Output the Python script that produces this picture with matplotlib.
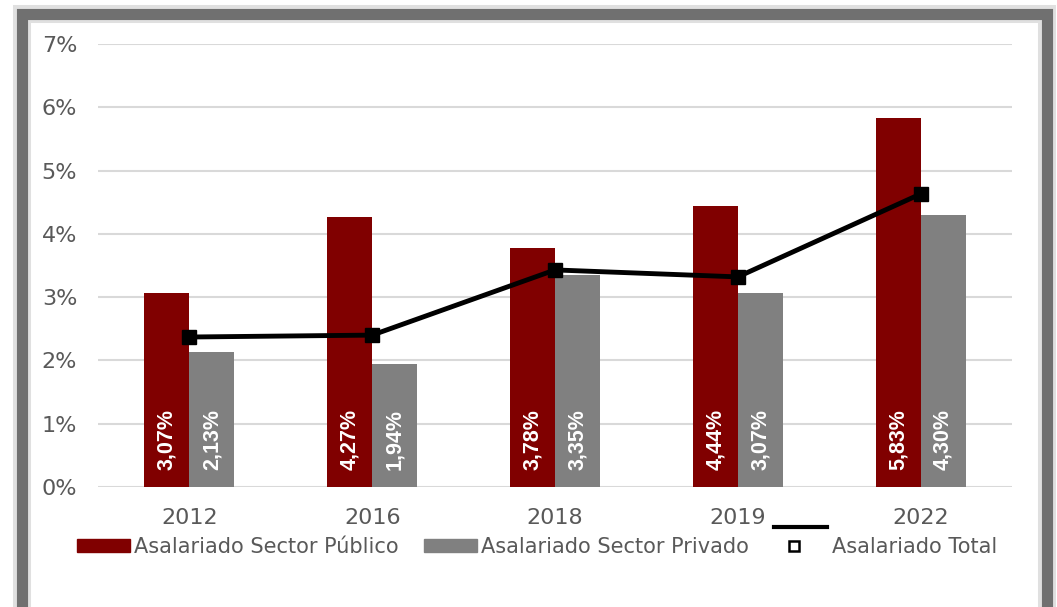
import matplotlib
matplotlib.use("Agg")
import numpy as np
from matplotlib import pyplot as plt
from matplotlib.patches import Rectangle, Patch
from matplotlib.lines import Line2D
from matplotlib.legend_handler import HandlerBase
from matplotlib.ticker import FuncFormatter

years = ['2012', '2016', '2018', '2019', '2022']
publico = [3.07, 4.27, 3.78, 4.44, 5.83]
privado = [2.13, 1.94, 3.35, 3.07, 4.30]
total = [2.37, 2.40, 3.43, 3.32, 4.63]

RED = '#800000'
GRAY = '#808080'
W, H = 1057, 607


class TotalHandler(HandlerBase):
    # Excel-style legend: line sits above the marker
    def create_artists(self, legend, orig_handle, xdescent, ydescent,
                       width, height, fontsize, trans):
        line = Line2D([-xdescent, width - xdescent], [height * 2.1] * 2,
                      color='black', lw=3)
        mark = Line2D([width * 0.38 - xdescent], [height / 2 - ydescent],
                      marker='s', ms=7, mfc='white', mec='black', mew=1.8,
                      ls='none')
        line.set_transform(trans)
        mark.set_transform(trans)
        return [line, mark]


fig = plt.figure(figsize=(W / 100, H / 100), dpi=100)
fig.patch.set_facecolor('white')

# frame with shadow
fig.patches.append(Rectangle((21.5 / W, -0.05), (1046.5 - 21.5) / W, 1 - 13.5 / H + 0.05,
                             transform=fig.transFigure, fill=False,
                             ec='#e0e0e0', lw=13, zorder=0))
fig.patches.append(Rectangle((21.5 / W, -0.05), (1046.5 - 21.5) / W, 1 - 13.5 / H + 0.05,
                             transform=fig.transFigure, fill=False,
                             ec='#707070', lw=8, zorder=1))

ax = fig.add_axes([98 / W, 1 - 487 / H, (1012 - 98) / W, (487 - 44) / H])

x = np.arange(len(years))
bw = 0.246
b1 = ax.bar(x - bw / 2, publico, bw, color=RED, zorder=2)
b2 = ax.bar(x + bw / 2, privado, bw, color=GRAY, zorder=2)
ax.plot(x, total, color='black', lw=3.5, marker='s', ms=10, zorder=3)

for bars, vals in ((b1, publico), (b2, privado)):
    for rect, v in zip(bars, vals):
        ax.annotate(('%.2f%%' % v).replace('.', ','),
                    (rect.get_x() + rect.get_width() / 2, 0),
                    xytext=(0, 12), textcoords='offset points',
                    rotation=90, ha='center', va='bottom', color='white',
                    fontsize=15.5, fontweight='bold', family='Liberation Sans',
                    zorder=4)

ax.set_xlim(-0.5, 4.5)
ax.set_ylim(0, 7)
ax.set_yticks(range(0, 8))
ax.yaxis.set_major_formatter(FuncFormatter(lambda v, p: '%d%%' % v))
ax.set_xticks(x)
ax.set_xticklabels(years)
ax.grid(axis='y', color='#d9d9d9', lw=1.5, zorder=0)
ax.set_axisbelow(True)
for s in ax.spines.values():
    s.set_visible(False)
ax.tick_params(length=0, labelsize=16, labelcolor='#595959')
ax.tick_params(axis='x', pad=15)
ax.tick_params(axis='y', pad=15)

handles = [Patch(color=RED), Patch(color=GRAY), Line2D([], [])]
labels = ['Asalariado Sector Público', 'Asalariado Sector Privado', 'Asalariado Total']
leg = fig.legend(handles, labels, ncol=3, loc='center',
                 bbox_to_anchor=(537 / W, 1 - 547 / H), frameon=False,
                 fontsize=15, handlelength=2.55, handleheight=0.55,
                 columnspacing=1.2, handletextpad=0.2,
                 handler_map={Line2D: TotalHandler()})
for t in leg.get_texts():
    t.set_color('#595959')

fig.savefig('out.png', dpi=100)
